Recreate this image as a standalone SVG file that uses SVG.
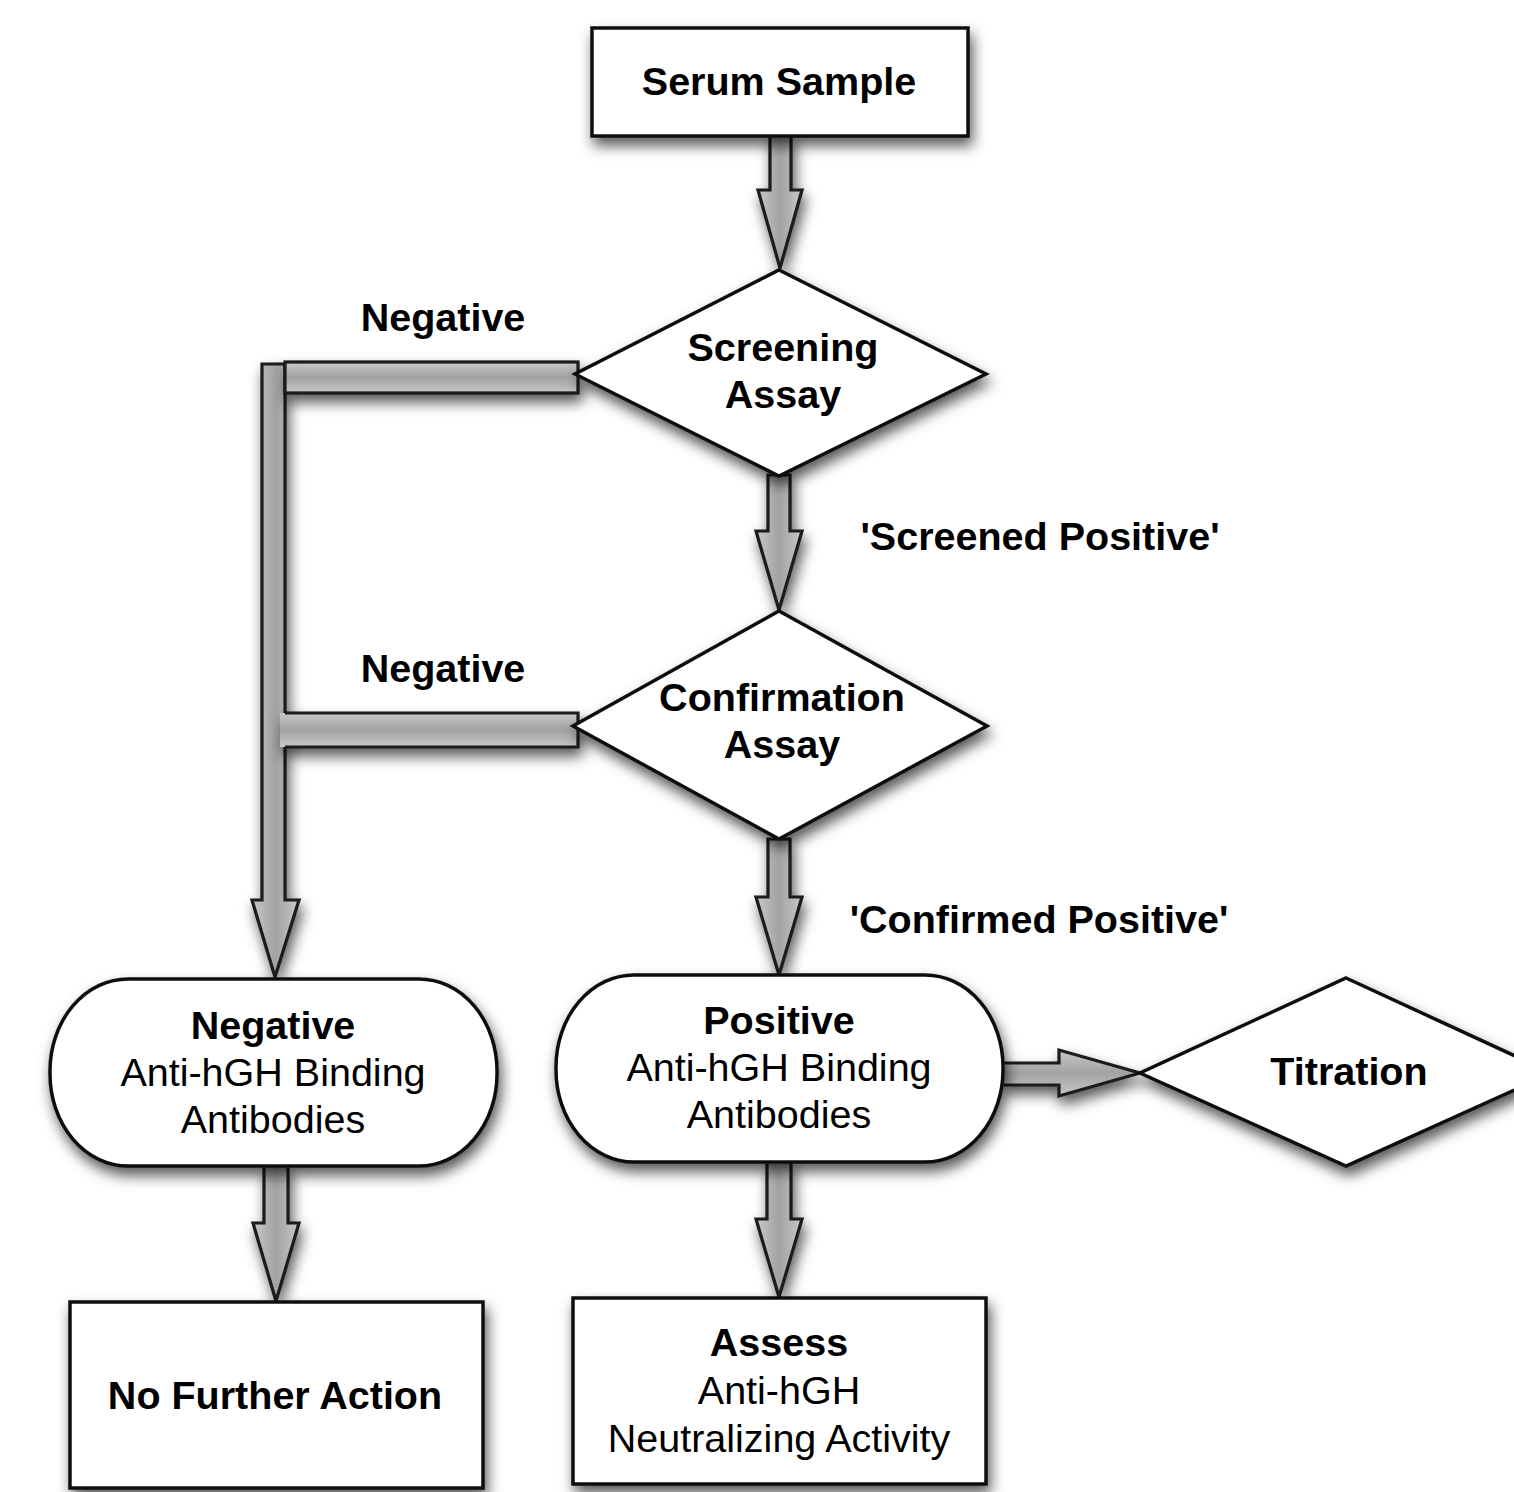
<svg xmlns="http://www.w3.org/2000/svg" width="1514" height="1492" viewBox="0 0 1514 1492">
<defs>
<filter id="sh" filterUnits="userSpaceOnUse" x="0" y="0" width="1514" height="1492">
<feDropShadow dx="3" dy="8" stdDeviation="7" flood-color="#000" flood-opacity="0.65"/>
</filter>
<linearGradient id="gv" x1="0" y1="0" x2="1" y2="0">
<stop offset="0" stop-color="#c8c8c8"/><stop offset="0.5" stop-color="#a2a2a2"/><stop offset="1" stop-color="#c8c8c8"/>
</linearGradient>
<linearGradient id="gh" x1="0" y1="0" x2="0" y2="1">
<stop offset="0" stop-color="#c8c8c8"/><stop offset="0.5" stop-color="#a2a2a2"/><stop offset="1" stop-color="#c8c8c8"/>
</linearGradient>
</defs>
<style>
.node{fill:#fff;stroke:#111;stroke-width:3.5;filter:url(#sh)}
.av{fill:url(#gv);stroke:#1a1a1a;stroke-width:3.2;stroke-linejoin:miter;filter:url(#sh)}
.ah{fill:url(#gh);stroke:#1a1a1a;stroke-width:3.2;filter:url(#sh)}
text{font-family:"Liberation Sans",Arial,sans-serif;font-size:39.5px;fill:#000;text-anchor:middle}
.b{font-weight:bold}
</style>
<rect width="1514" height="1492" fill="#fff"/>
<g id="connectors">
<polygon class="av" points="770,134 791,134 791,190 802,190 780,268 758,190 770,190"/>
<polygon class="av" points="768,475 790,475 790,531 802,531 779,610 756,531 768,531"/>
<polygon class="av" points="768,839 790,839 790,897 802,897 779,975 756,897 768,897"/>
<polygon class="av" points="264,1165 288,1165 288,1223 299,1223 276,1301 253,1223 264,1223"/>
<polygon class="av" points="767,1161 791,1161 791,1219 802,1219 779,1297 756,1219 767,1219"/>
<polygon class="ah" points="1002,1063 1059,1063 1059,1050 1140,1073 1059,1096 1059,1085 1002,1085"/>
<polygon class="av" points="262,364 285,364 285,900 299,900 275,977 252,900 262,900"/>
<rect class="ah" x="285" y="362" width="293" height="31"/>
<g filter="url(#sh)">
<rect x="280" y="713" width="298" height="34" fill="url(#gh)"/>
<path d="M285,713 L578,713 L578,747 L285,747" fill="none" stroke="#1a1a1a" stroke-width="3.2"/>
</g>
</g>
<g id="serum"><rect class="node" x="592" y="28" width="376" height="108"/><text class="b" x="779" y="95">Serum Sample</text></g>
<g id="screening"><polygon class="node" points="779,270 986,374 779,476 575,374"/><text class="b" x="783" y="361">Screening</text><text class="b" x="783" y="408">Assay</text></g>
<g id="label-neg1"><text class="b" x="443" y="331">Negative</text></g>
<g id="label-screened"><text class="b" x="1040" y="550">'Screened Positive'</text></g>
<g id="confirmation"><polygon class="node" points="779,611 987,726 779,839 573,726"/><text class="b" x="782" y="711">Confirmation</text><text class="b" x="782" y="758">Assay</text></g>
<g id="label-neg2"><text class="b" x="443" y="682">Negative</text></g>
<g id="label-confirmed"><text class="b" x="1039" y="933">'Confirmed Positive'</text></g>
<g id="negative"><rect class="node" x="50" y="979" width="447" height="187" rx="78" ry="92"/><text class="b" x="273" y="1039">Negative</text><text x="273" y="1086">Anti-hGH Binding</text><text x="273" y="1133">Antibodies</text></g>
<g id="positive"><rect class="node" x="556" y="975" width="447" height="187" rx="78" ry="92"/><text class="b" x="779" y="1034">Positive</text><text x="779" y="1081">Anti-hGH Binding</text><text x="779" y="1128">Antibodies</text></g>
<g id="titration"><polygon class="node" points="1346,978 1552,1073 1346,1166 1140,1073"/><text class="b" x="1349" y="1085">Titration</text></g>
<g id="nofurther"><rect class="node" x="70" y="1302" width="413" height="186"/><text class="b" x="275" y="1409">No Further Action</text></g>
<g id="assess"><rect class="node" x="573" y="1298" width="413" height="186"/><text class="b" x="779" y="1356">Assess</text><text x="779" y="1404">Anti-hGH</text><text x="779" y="1452">Neutralizing Activity</text></g>
</svg>
